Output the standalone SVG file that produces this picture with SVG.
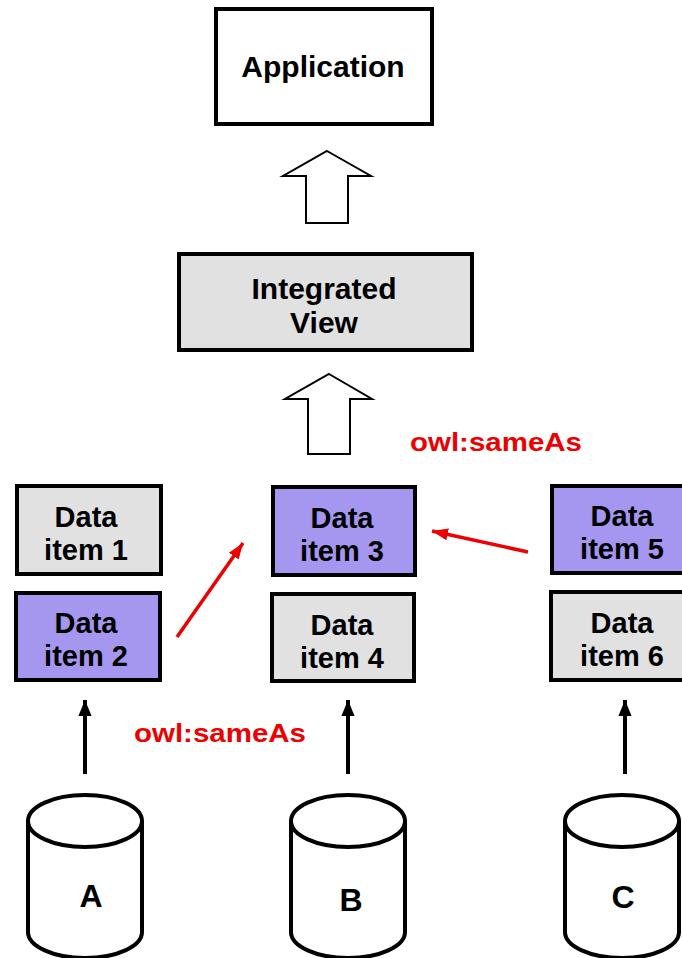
<svg xmlns="http://www.w3.org/2000/svg" width="682" height="958" viewBox="0 0 682 958">
<style>
text{font-family:"Liberation Sans",Arial,sans-serif;font-weight:bold;text-anchor:middle;fill:#000}
.it{font-size:29px}
.box{stroke:#000;stroke-width:4}
.gray{fill:#e1e1e1}
.purple{fill:#a596f0}
.red{fill:#ee0000}
.db{fill:#fff;stroke:#000;stroke-width:4}
.hollow{fill:#fff;stroke:#000;stroke-width:2}
.blk{stroke:#000;stroke-width:4;fill:none}
.rd{stroke:#ee0000;stroke-width:3.5;fill:none}
</style>
<defs>
<marker id="ab" markerUnits="userSpaceOnUse" markerWidth="16" markerHeight="20" refX="17" refY="7" orient="auto" viewBox="0 0 17 14"><path d="M0,0 L17,7 L0,14 Z" fill="#000"/></marker>
<marker id="ar" markerUnits="userSpaceOnUse" markerWidth="16" markerHeight="14" refX="16" refY="6" orient="auto" viewBox="0 0 16 12"><path d="M0,0 L16,6 L0,12 Z" fill="#ee0000"/></marker>
</defs>
<rect width="682" height="958" fill="#fff"/>

<g id="application">
<rect class="box" x="216" y="9" width="216" height="115" fill="#fff"/>
<text x="323" y="77" font-size="30">Application</text>
</g>

<g id="integrated-view">
<rect class="box gray" x="179" y="254" width="293" height="96"/>
<text x="324" y="299" font-size="30">Integrated</text>
<text x="324" y="333" font-size="30">View</text>
</g>

<g id="item1">
<rect class="box gray" x="17" y="486" width="144" height="88"/>
<text class="it" x="86" y="527">Data</text>
<text class="it" x="86" y="560">item 1</text>
</g>
<g id="item2">
<rect class="box purple" x="16" y="593" width="144" height="87"/>
<text class="it" x="86" y="633">Data</text>
<text class="it" x="86" y="666">item 2</text>
</g>
<g id="item3">
<rect class="box purple" x="273" y="487" width="142" height="88"/>
<text class="it" x="342" y="528">Data</text>
<text class="it" x="342" y="561">item 3</text>
</g>
<g id="item4">
<rect class="box gray" x="272" y="594" width="142" height="87"/>
<text class="it" x="342" y="635">Data</text>
<text class="it" x="342" y="668">item 4</text>
</g>
<g id="item5">
<rect class="box purple" x="552" y="486" width="142" height="87"/>
<text class="it" x="622" y="526">Data</text>
<text class="it" x="622" y="559">item 5</text>
</g>
<g id="item6">
<rect class="box gray" x="551" y="592" width="142" height="88"/>
<text class="it" x="622" y="633">Data</text>
<text class="it" x="622" y="666">item 6</text>
</g>

<g id="dbA">
<path class="db" d="M28,821 L28,932 A57,26 0 0 0 142,932 L142,821"/>
<ellipse class="db" cx="85" cy="821" rx="57" ry="26"/>
<text x="91" y="907" font-size="32">A</text>
</g>
<g id="dbB">
<path class="db" d="M291,821 L291,932 A57,26 0 0 0 405,932 L405,821"/>
<ellipse class="db" cx="348" cy="821" rx="57" ry="26"/>
<text x="351" y="911" font-size="32">B</text>
</g>
<g id="dbC">
<path class="db" d="M565,821 L565,932 A57,26 0 0 0 679,932 L679,821"/>
<ellipse class="db" cx="622" cy="821" rx="57" ry="26"/>
<text x="623" y="908" font-size="32">C</text>
</g>

<g id="connectors">
<path class="hollow" d="M327,151 L371,176 L348,176 L348,223 L306,223 L306,176 L283,176 Z"/>
<path class="hollow" d="M329,374 L372,399 L350,399 L350,454 L308,454 L308,399 L285,399 Z"/>
<line class="blk" x1="85" y1="774" x2="85" y2="700" marker-end="url(#ab)"/>
<line class="blk" x1="348" y1="774" x2="348" y2="700" marker-end="url(#ab)"/>
<line class="blk" x1="625" y1="774" x2="625" y2="700" marker-end="url(#ab)"/>
<line class="rd" x1="177" y1="637" x2="243" y2="543" marker-end="url(#ar)"/>
<line class="rd" x1="528" y1="552" x2="432" y2="531" marker-end="url(#ar)"/>
<text class="red" x="496" y="451" font-size="26" textLength="172" lengthAdjust="spacingAndGlyphs">owl:sameAs</text>
<text class="red" x="220" y="742" font-size="26" textLength="172" lengthAdjust="spacingAndGlyphs">owl:sameAs</text>
</g>
</svg>
